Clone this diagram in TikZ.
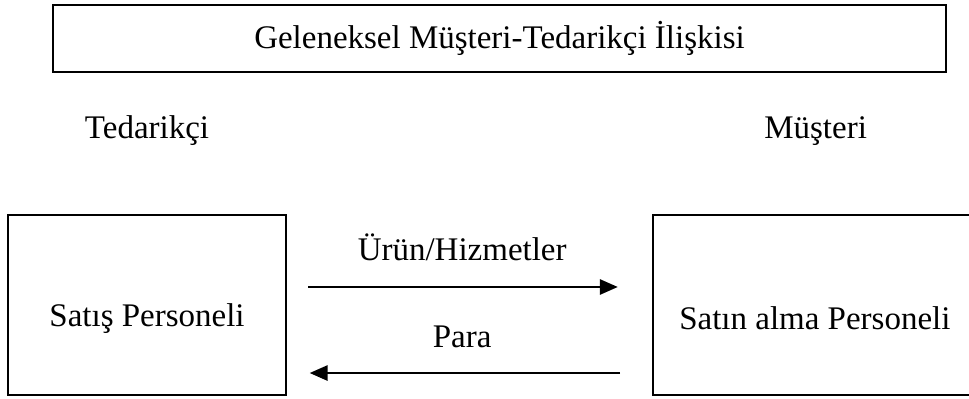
\documentclass[tikz,border=0pt]{standalone}
\usepackage{fontspec}
\setmainfont{Liberation Serif}
\usepackage{tikz}
\usetikzlibrary{calc,positioning,arrows.meta}

\tikzset{
	lbl/.style={font=\fontsize{12}{14}\selectfont, inner sep=0pt},
	flow/.style={line width=0.8pt, -{Triangle[length=6.5pt,width=5.5pt]}}
}

\begin{document}
\begin{tikzpicture}
		\useasboundingbox (0,0) rectangle (12.391,-5.090);

		\node[lbl, draw, line width=0.8pt, minimum width=11.42cm, minimum height=0.857cm] (title) at (6.387,-0.492) {Geleneksel Müşteri-Tedarikçi İlişkisi};

		\node[lbl] (tedarikci) at (1.88,-1.675) {Tedarikçi};
		\node[lbl] (musteri) at (10.43,-1.675) {Müşteri};

		\draw[line width=0.8pt] (0.102,-2.75) rectangle (3.657,-5.051);
		\draw[line width=0.8pt] (8.35,-2.75) rectangle (12.50,-5.051);

		\node[lbl] (satis) at (1.88,-4.07) {Satış Personeli};
		\node[lbl] (satinalma) at (10.42,-4.07) {Satın alma Personeli};

		\coordinate (u1) at (3.94,-3.67);
		\coordinate (u2) at (7.90,-3.67);
		\coordinate (p1) at (7.93,-4.77);
		\coordinate (p2) at (3.96,-4.77);

		\draw[flow] (u1) -- (u2);
		\draw[flow] (p1) -- (p2);
		\node[lbl] (urun) at (5.91,-3.16) {Ürün/Hizmetler};
		\node[lbl] (para) at (5.91,-4.31) {Para};
	\end{tikzpicture}
\end{document}
